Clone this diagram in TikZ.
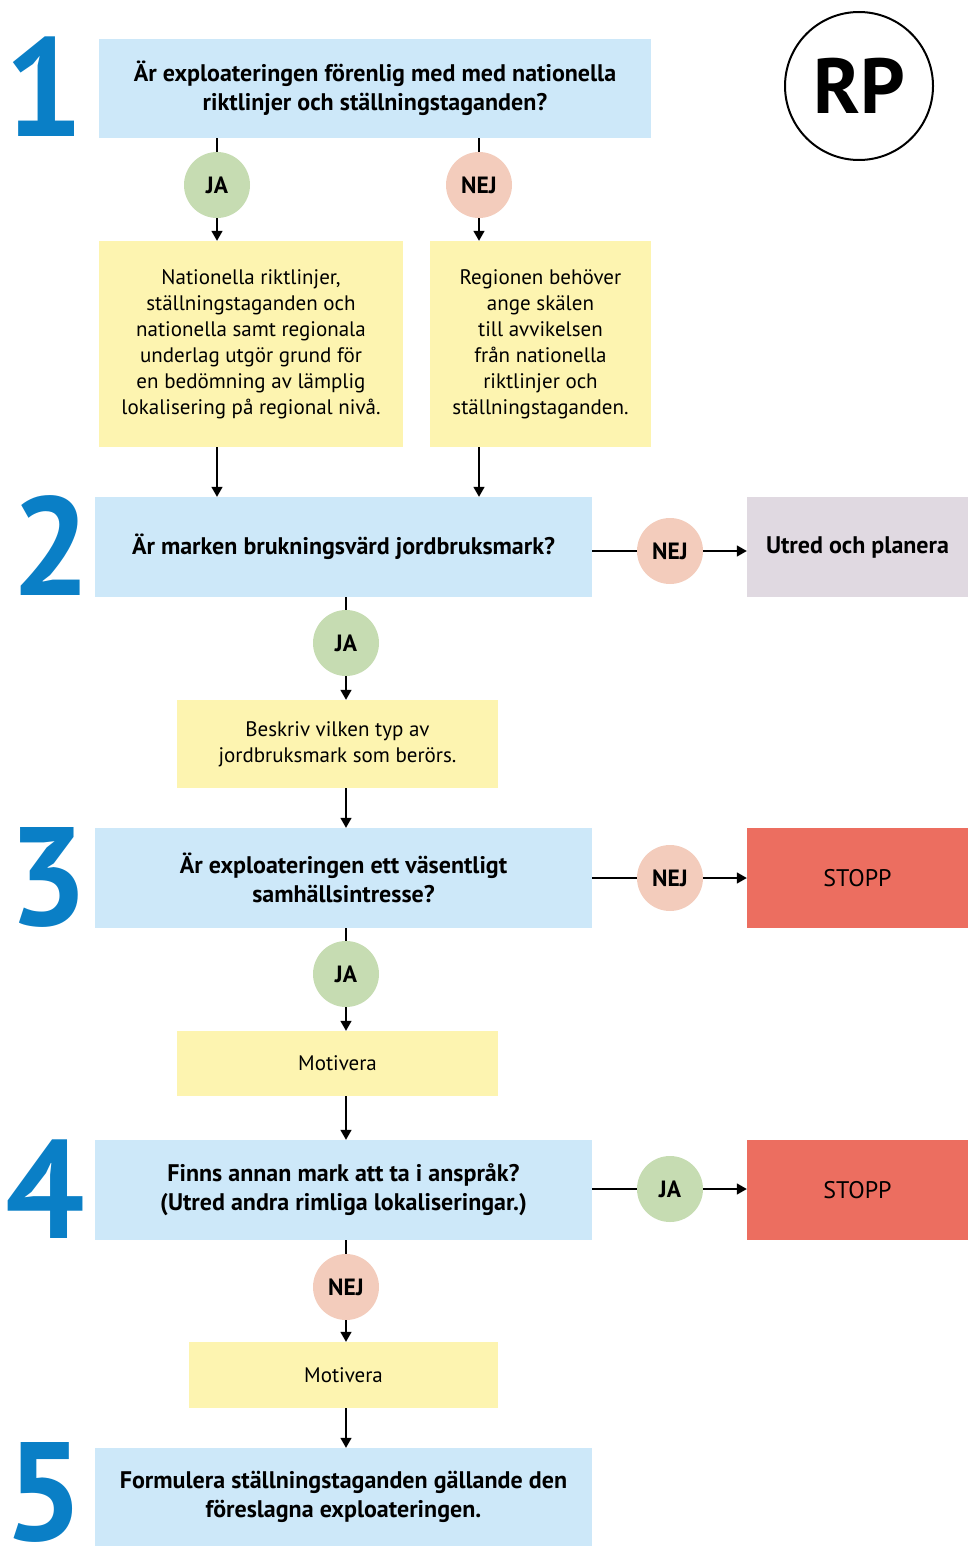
\documentclass[tikz,border=0pt]{standalone}
\usepackage{fontspec}
\setmainfont{PT Sans}
\usepackage{tikz}
\usetikzlibrary{positioning,arrows.meta}

\definecolor{qblue}{HTML}{CDE8F9}
\definecolor{nyellow}{HTML}{FDF4B0}
\definecolor{jagreen}{HTML}{C6DCB2}
\definecolor{nejpink}{HTML}{F3CCBC}
\definecolor{utredgray}{HTML}{E0D9E1}
\definecolor{stoppred}{HTML}{EC6E60}
\definecolor{stepblue}{HTML}{0A7FC6}

\begin{document}
\begin{tikzpicture}[
  x=1pt, y=-1pt,
  question/.style={rectangle, fill=qblue, align=center, inner sep=0pt, font=\fontsize{24}{29}\selectfont\bfseries},
  note/.style={rectangle, fill=nyellow, align=center, inner sep=0pt, font=\fontsize{21}{26}\selectfont},
  answer/.style={circle, minimum size=66pt, inner sep=0pt, font=\fontsize{23.5}{26}\selectfont\bfseries},
  ja/.style={answer, fill=jagreen},
  nej/.style={answer, fill=nejpink},
  outcome/.style={rectangle, inner sep=0pt, minimum width=221pt, minimum height=100pt, font=\fontsize{24}{29}\selectfont\bfseries},
  stepnum/.style={text=stepblue, inner sep=0pt, font=\fontsize{140}{140}\selectfont\bfseries},
  arrow/.style={-{Triangle[width=11pt,length=10pt]}, line width=1.5pt},
  link/.style={line width=1.5pt}
]
\useasboundingbox (0,0) rectangle (968,1546);

% step numbers
\node[stepnum] (n1) at (44,87) {1};
\node[stepnum] (n2) at (51,546) {2};
\node[stepnum] (n3) at (48,877) {3};
\node[stepnum] (n4) at (45,1189) {4};
\node[stepnum] (n5) at (44,1492) {5};

\node[circle, draw, line width=2pt, minimum size=148pt, inner sep=0pt,
  font=\fontsize{78}{78}\selectfont\bfseries] (rp) at (859,86) {RP};

% questions
\node[question, minimum width=552pt, minimum height=99pt] (q1) at (375,88.5)
  {Är exploateringen förenlig med med nationella\\riktlinjer och ställningstaganden?};
\node[question, minimum width=497pt, minimum height=100pt] (q2) at (343.5,547)
  {Är marken brukningsvärd jordbruksmark?};
\node[question, minimum width=497pt, minimum height=100pt] (q3) at (343.5,878)
  {Är exploateringen ett väsentligt\\samhällsintresse?};
\node[question, minimum width=497pt, minimum height=100pt] (q4) at (343.5,1190)
  {Finns annan mark att ta i anspråk?\\(Utred andra rimliga lokaliseringar.)};
\node[question, minimum width=497pt, minimum height=98pt] (q5) at (343.5,1497)
  {Formulera ställningstaganden gällande den\\föreslagna exploateringen.};

% notes
\node[note, minimum width=304pt, minimum height=206pt] (ya) at (251,344)
  {Nationella riktlinjer,\\ställningstaganden och\\nationella samt regionala\\underlag utgör grund för\\en bedömning av lämplig\\lokalisering på regional nivå.};
\node[note, minimum width=221pt, minimum height=206pt] (yb) at (540.5,344)
  {Regionen behöver\\ange skälen\\till avvikelsen\\från nationella\\riktlinjer och\\ställningstaganden.};
\node[note, minimum width=321pt, minimum height=88pt] (yc) at (337.5,744)
  {Beskriv vilken typ av\\jordbruksmark som berörs.};
\node[note, minimum width=321pt, minimum height=65pt] (yd) at (337.5,1063.5) {Motivera};
\node[note, minimum width=309pt, minimum height=66pt] (ye) at (343.5,1375) {Motivera};

% outcomes
\node[outcome, fill=utredgray] (utred) at (857.5,547) {Utred och planera};
\node[outcome, fill=stoppred, font=\fontsize{24}{29}\selectfont] (stopp1) at (857.5,878) {STOPP};
\node[outcome, fill=stoppred, font=\fontsize{24}{29}\selectfont] (stopp2) at (857.5,1190) {STOPP};

% answers
\node[ja] (ja1) at (217,185) {JA};
\node[nej] (nej1) at (479,185) {NEJ};
\node[nej] (nej2) at (670,551) {NEJ};
\node[ja] (ja2) at (346,643) {JA};
\node[nej] (nej3) at (670,878) {NEJ};
\node[ja] (ja3) at (346,974) {JA};
\node[ja] (ja4) at (670,1189) {JA};
\node[nej] (nej4) at (346,1287) {NEJ};

% connectors
\draw[link] (q1.south -| ja1) -- (ja1);
\draw[arrow] (ja1) -- (ja1 |- ya.north);
\draw[link] (q1.south -| nej1) -- (nej1);
\draw[arrow] (nej1) -- (nej1 |- yb.north);
\draw[arrow] (ya.south -| ja1) -- (ja1 |- q2.north);
\draw[arrow] (yb.south -| nej1) -- (nej1 |- q2.north);

\draw[link] (q2.east |- nej2) -- (nej2);
\draw[arrow] (nej2) -- (utred.west |- nej2);
\draw[link] (q2.south -| ja2) -- (ja2);
\draw[arrow] (ja2) -- (ja2 |- yc.north);
\draw[arrow] (yc.south -| ja2) -- (ja2 |- q3.north);

\draw[link] (q3.east |- nej3) -- (nej3);
\draw[arrow] (nej3) -- (stopp1.west |- nej3);
\draw[link] (q3.south -| ja3) -- (ja3);
\draw[arrow] (ja3) -- (ja3 |- yd.north);
\draw[arrow] (yd.south -| ja3) -- (ja3 |- q4.north);

\draw[link] (q4.east |- ja4) -- (ja4);
\draw[arrow] (ja4) -- (stopp2.west |- ja4);
\draw[link] (q4.south -| nej4) -- (nej4);
\draw[arrow] (nej4) -- (nej4 |- ye.north);
\draw[arrow] (ye.south -| nej4) -- (nej4 |- q5.north);

\end{tikzpicture}
\end{document}
